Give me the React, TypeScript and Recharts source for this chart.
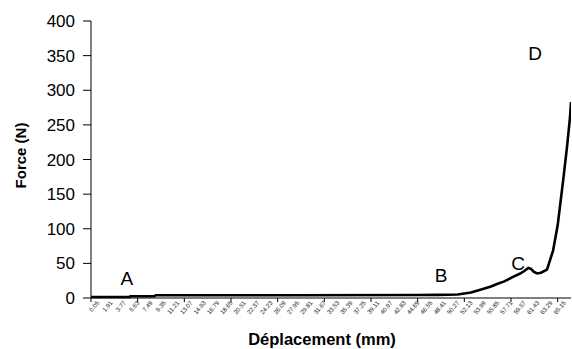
import React from 'react';
import { LineChart, Line, XAxis, YAxis, ReferenceDot } from 'recharts';

// Displacement positions (chart units) and measured force (N)
const displacement = [0, 5.8, 5.9, 9.5, 9.7, 30, 49, 52, 55, 57, 58.4, 60, 61, 62, 63.3, 64.3, 65, 65.6, 66, 66.4, 66.9, 67.5, 68.4, 69.3, 70, 70.8, 71.4, 71.85, 72];
const force = [1.5, 1.5, 2.5, 2.5, 4, 4, 4.3, 4.5, 5, 8, 12, 16.5, 20.5, 24, 30.5, 35, 39, 43.5, 42, 38, 35.5, 36.5, 41, 68, 105, 168, 218, 261, 283];

const xLabelPositions = [1, 3, 5, 7, 9, 11, 13, 15, 17, 19, 21, 23, 25, 27, 29, 31, 33, 35, 37, 39, 41, 43, 45, 47, 49, 51, 53, 55, 57, 59, 61, 63, 65, 67, 69, 71];
const xLabels = ['0.05', '1.91', '3.77', '5.63', '7.49', '9.35', '11.21', '13.07', '14.93', '16.79', '18.65', '20.51', '22.37', '24.23', '26.09', '27.95', '29.81', '31.67', '33.53', '35.39', '37.25', '39.11', '40.97', '42.83', '44.69', '46.55', '48.41', '50.27', '52.13', '53.99', '55.85', '57.71', '59.57', '61.43', '63.29', '65.15'];
const xMarkPositions = [0, 7, 14, 21, 28, 35, 42, 49, 56, 63, 70];
const yTicks = [0, 50, 100, 150, 200, 250, 300, 350, 400];

const pointLabels = ['A', 'B', 'C', 'D'];
const pointX = [5.36, 52.5, 64.05, 66.6];
const pointY = [28.2, 32.9, 49.8, 353];

const data = displacement.map((d, i) => ({ disp: d, force: force[i] }));
const allXTicks = Array.from(new Set([...xLabelPositions, ...xMarkPositions])).sort((a, b) => a - b);

const FONT = '"Liberation Sans", Arial, sans-serif';
const TICK_SIZE = 2;
const TICK_MARGIN = 2;

const renderXTick = (props: any) => {
  const { x, y, payload } = props;
  const v = payload.value;
  const axisY = y - TICK_SIZE - TICK_MARGIN;
  const li = xLabelPositions.indexOf(v);
  const isMark = xMarkPositions.indexOf(v) >= 0;
  return (
    <g key={`xt-${v}`}>
      {isMark && <line x1={x} x2={x} y1={axisY} y2={axisY + 4} stroke="#000" strokeWidth={1} />}
      {li >= 0 && (
        <g transform={`translate(${x + 2}, ${y + 1}) rotate(-50)`}>
          <text x={0} y={0} textAnchor="end" fontSize={6.2} fontFamily={FONT} fill="#222">
            {xLabels[li]}
          </text>
        </g>
      )}
    </g>
  );
};

const XTitle = (props: any) => {
  const vb = props.viewBox;
  return (
    <text
      x={vb.x + vb.width / 2 - 9}
      y={vb.y + 46.5}
      textAnchor="middle"
      fontSize={16.5}
      fontWeight="bold"
      fontFamily={FONT}
      fill="#000"
    >
      Déplacement (mm)
    </text>
  );
};

const YTitle = (props: any) => {
  const vb = props.viewBox;
  const cx = 25.5;
  const cy = vb.y + vb.height / 2 - 4;
  return (
    <text
      x={cx}
      y={cy}
      textAnchor="middle"
      fontSize={15}
      fontWeight="bold"
      fontFamily={FONT}
      fill="#000"
      transform={`rotate(-90, ${cx}, ${cy})`}
    >
      Force (N)
    </text>
  );
};

export default function App() {
  return (
    <div style={{ position: 'absolute', left: 0, top: 0, width: 572, height: 349, background: '#fff' }}>
      <LineChart width={572} height={349} data={data} margin={{ top: 21, right: 1, bottom: 1, left: 0 }}>
        <XAxis
          type="number"
          dataKey="disp"
          domain={[0, 72]}
          ticks={allXTicks}
          interval={0}
          tickLine={false}
          tickSize={TICK_SIZE}
          tickMargin={TICK_MARGIN}
          tick={renderXTick}
          axisLine={{ stroke: '#000', strokeWidth: 1 }}
          height={50}
          allowDataOverflow
          label={<XTitle />}
        />
        <YAxis
          type="number"
          domain={[0, 400]}
          ticks={yTicks}
          interval={0}
          width={91}
          tickSize={8}
          tickMargin={8}
          axisLine={{ stroke: '#000', strokeWidth: 1 }}
          tickLine={{ stroke: '#000', strokeWidth: 1 }}
          tick={{ fontSize: 17, fill: '#000', fontFamily: FONT }}
          label={<YTitle />}
        />
        <Line
          type="linear"
          dataKey="force"
          stroke="#000"
          strokeWidth={2.6}
          dot={false}
          isAnimationActive={false}
        />
        {pointLabels.map((t, i) => (
          <ReferenceDot
            key={t}
            x={pointX[i]}
            y={pointY[i]}
            r={0}
            fill="none"
            stroke="none"
            ifOverflow="visible"
            label={{ value: t, position: 'center', fontSize: 19, fill: '#000', fontFamily: FONT }}
          />
        ))}
      </LineChart>
    </div>
  );
}
